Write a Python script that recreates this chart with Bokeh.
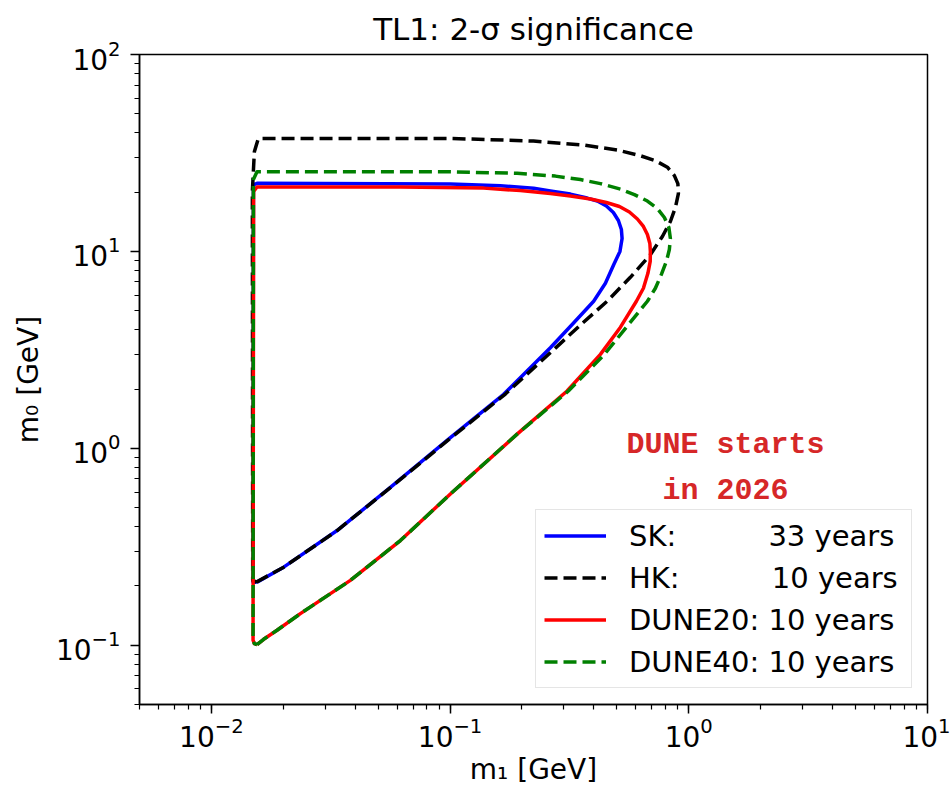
from bokeh.plotting import figure
from bokeh.models import Legend, LegendItem, Label
from bokeh.embed import file_html
from bokeh.resources import INLINE

# ---- data (m1 [GeV], m0 [GeV]) ----
sk_m1 = [0.01553, 0.02009, 0.03362, 0.05622, 0.1003, 0.1677, 0.2631, 0.3254, 0.3995, 0.4474,
         0.4846, 0.5148, 0.5255, 0.5220, 0.5071, 0.4831, 0.4517, 0.4141, 0.3750, 0.3192,
         0.2631, 0.2240, 0.1624, 0.1003, 0.01553, 0.01500, 0.01495, 0.01553]
sk_m0 = [0.2092, 0.2491, 0.3822, 0.6330, 1.134, 1.881, 3.239, 4.269, 5.582, 6.887,
         8.563, 10.0, 11.64, 12.92, 14.36, 15.76, 17.00, 18.02, 18.66, 19.55,
         20.29, 20.92, 21.54, 22.02, 22.17, 21.8, 0.209, 0.2092]

hk_m1 = [0.01543, 0.02009, 0.03362, 0.05622, 0.1003, 0.1705, 0.2761, 0.3584, 0.4546, 0.5692,
         0.6903, 0.7753, 0.8374, 0.8788, 0.9046, 0.9000, 0.8703, 0.8136, 0.7245, 0.6269,
         0.5010, 0.3618, 0.2234, 0.1003, 0.01573, 0.01514, 0.01485, 0.01490, 0.01543]
hk_m0 = [0.2092, 0.2491, 0.3822, 0.6310, 1.124, 1.887, 3.228, 4.318, 5.582, 7.386,
         9.623, 11.91, 14.19, 16.71, 19.66, 22.10, 24.26, 26.77, 28.89, 30.62,
         32.73, 34.70, 36.35, 37.47, 37.47, 32.08, 20.13, 0.2134, 0.2092]

dune20_m1 = [0.01553, 0.01656, 0.01884, 0.02360, 0.03822, 0.06191, 0.1003, 0.1909, 0.3091, 0.4263,
             0.5173, 0.6033, 0.6455, 0.6741, 0.6893, 0.6903, 0.6870, 0.6708, 0.6455, 0.6091,
             0.5640, 0.5123, 0.4517, 0.3871, 0.3192, 0.2631, 0.1970, 0.1382, 0.06191, 0.01553,
             0.01503, 0.01495, 0.01514, 0.01553]
dune20_m0 = [0.1008, 0.1072, 0.1191, 0.1447, 0.2134, 0.3401, 0.5862, 1.180, 1.955, 2.999,
             4.123, 5.582, 6.497, 7.738, 8.898, 10.0, 10.98, 12.19, 13.39, 14.61,
             15.85, 16.90, 17.71, 18.44, 19.10, 19.66, 20.37, 20.96, 21.21, 21.26,
             20.13, 0.1060, 0.1018, 0.1008]

dune40_m1 = [0.01553, 0.01656, 0.01884, 0.02360, 0.03822, 0.06191, 0.1003, 0.1909, 0.3130, 0.4431,
             0.6708, 0.7245, 0.7678, 0.8058, 0.8292, 0.8374, 0.8252, 0.7903, 0.7387, 0.6708,
             0.5916, 0.5173, 0.4263, 0.3515, 0.2761, 0.1909, 0.1003, 0.01553, 0.01500, 0.01495,
             0.01514, 0.01553]
dune40_m0 = [0.1008, 0.1072, 0.1191, 0.1447, 0.2134, 0.3401, 0.5862, 1.180, 1.955, 2.999,
             5.582, 6.497, 7.647, 8.898, 10.23, 11.64, 13.23, 14.87, 16.51, 18.02,
             19.43, 20.72, 22.10, 23.16, 24.12, 24.92, 25.37, 25.37, 23.16, 0.1060,
             0.1018, 0.1008]

nbsp = "\u00a0"
labels = ["SK:" + nbsp * 10 + "33 years",
          "HK:" + nbsp * 10 + "10 years",
          "DUNE20: 10 years",
          "DUNE40: 10 years"]
title_text = "TL1: 2-\u03c3 significance"
xlabel = "m\u2081 [GeV]"
ylabel = "m\u2080 [GeV]"
note_lines = ["DUNE starts", "in 2026"]

FONT = "DejaVu Sans"
FS = "28px"

p = figure(frame_width=788, frame_height=650,
           x_axis_type="log", y_axis_type="log",
           x_range=(5e-3, 10), y_range=(0.05, 100),
           output_backend="svg", toolbar_location=None,
           min_border_left=139, min_border_right=23,
           min_border_top=53, min_border_bottom=87,
           title=title_text)
p.background_fill_color = "white"
p.border_fill_color = "white"
p.title.align = "center"
p.title.text_font = FONT
p.title.text_font_size = "31px"
p.title.text_font_style = "normal"
p.title.text_color = "black"
p.title.standoff = 16

p.grid.visible = False
p.outline_line_color = "black"
p.outline_line_width = 1.5
p.outline_line_alpha = 1.0

for ax in (p.xaxis[0], p.yaxis[0]):
    ax.axis_line_width = 1.5
    ax.major_tick_line_width = 1.5
    ax.minor_tick_line_width = 1.2
    ax.major_tick_out = 9
    ax.major_tick_in = 0
    ax.minor_tick_out = 5
    ax.minor_tick_in = 0
    ax.major_label_text_font = FONT
    ax.major_label_text_font_size = FS
    ax.major_label_text_color = "black"
    ax.axis_label_text_font = FONT
    ax.axis_label_text_font_size = "28px"
    ax.axis_label_text_font_style = "normal"
    ax.axis_label_text_color = "black"
p.xaxis[0].major_label_standoff = 3
p.xaxis[0].axis_label_standoff = 3
p.yaxis[0].major_label_standoff = 10
p.yaxis[0].axis_label_standoff = 8
p.xaxis[0].axis_label = xlabel
p.yaxis[0].axis_label = ylabel

lw = 3.5
r_sk = p.line(sk_m1, sk_m0, line_color="#0000ff", line_width=lw, line_join="round")
r_hk = p.line(hk_m1, hk_m0, line_color="black", line_width=lw, line_dash="13 6", line_join="round")
r_d20 = p.line(dune20_m1, dune20_m0, line_color="#ff0000", line_width=lw, line_join="round")
r_d40 = p.line(dune40_m1, dune40_m0, line_color="#008000", line_width=lw, line_dash="13 6", line_join="round")

legend = Legend(items=[LegendItem(label=labels[0], renderers=[r_sk]),
                       LegendItem(label=labels[1], renderers=[r_hk]),
                       LegendItem(label=labels[2], renderers=[r_d20]),
                       LegendItem(label=labels[3], renderers=[r_d40])],
                location=(396, 16))
legend.label_text_font = FONT
legend.label_text_font_size = "29px"
legend.label_text_color = "black"
legend.glyph_width = 62
legend.glyph_height = 35
legend.label_height = 35
legend.label_width = 274
legend.label_standoff = 23
legend.spacing = 7
legend.padding = 8
legend.margin = 0
legend.border_line_color = "#cccccc"
legend.border_line_width = 1.2
legend.background_fill_color = "white"
legend.background_fill_alpha = 0.8
p.add_layout(legend)

# DUNE note (frame-relative screen units)
note_color = "#d62728"
for txt, yy in zip(note_lines, (260, 214)):
    p.add_layout(Label(x=586, y=yy, x_units="screen", y_units="screen", text=txt,
                       text_font="Liberation Mono", text_font_style="bold",
                       text_font_size="30px", text_color=note_color,
                       text_align="center", text_baseline="alphabetic"))

open("out.html", "w").write(file_html(p, INLINE))
